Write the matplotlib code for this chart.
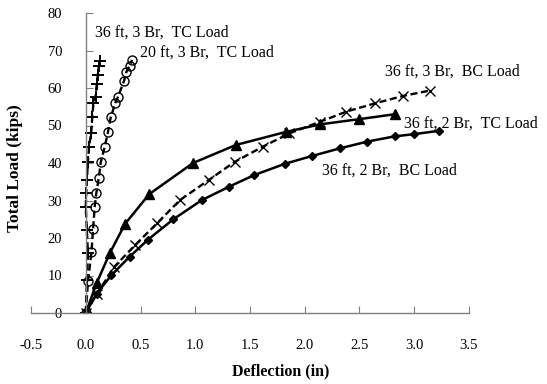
import matplotlib
matplotlib.use('Agg')
import matplotlib.pyplot as plt

# 36 ft, 3 Br, TC Load
s1_x = [0, 0.01, 0.02, 0.01, 0.0, 0.005, 0.01, 0.02, 0.03, 0.05, 0.06, 0.07, 0.09, 0.10, 0.11, 0.12, 0.13]
s1_y = [0, 8.8, 15.9, 22.1, 28.4, 32.0, 35.5, 40.4, 44.4, 48.0, 52.4, 55.9, 57.7, 61.0, 63.5, 65.8, 67.3]
# 20 ft, 3 Br, TC Load
s2_x = [0, 0.021, 0.052, 0.067, 0.082, 0.097, 0.119, 0.137, 0.174, 0.204, 0.228, 0.27, 0.295, 0.35, 0.371, 0.402, 0.423]
s2_y = [0, 8.6, 16.2, 22.4, 28.4, 32.1, 36.0, 40.2, 44.4, 48.4, 52.2, 56.0, 57.7, 61.9, 64.3, 66.0, 67.5]
# 36 ft, 2 Br, TC Load
s3_x = [0, 0.10, 0.22, 0.36, 0.58, 0.98, 1.37, 1.83, 2.14, 2.50, 2.82]
s3_y = [0, 8.0, 16.0, 23.8, 31.7, 40.0, 44.8, 48.3, 50.3, 51.7, 53.0]
# 36 ft, 3 Br, BC Load
s4_x = [0, 0.10, 0.26, 0.45, 0.65, 0.86, 1.13, 1.36, 1.62, 1.86, 2.14, 2.38, 2.64, 2.90, 3.14]
s4_y = [0, 5.0, 12.3, 18.1, 23.9, 30.1, 35.6, 40.3, 44.4, 47.9, 51.0, 53.7, 55.9, 57.9, 59.3]
# 36 ft, 2 Br, BC Load
s5_x = [0, 0.10, 0.235, 0.40, 0.57, 0.80, 1.06, 1.31, 1.54, 1.82, 2.07, 2.32, 2.57, 2.82, 3.00, 3.23]
s5_y = [0, 5.2, 10.1, 15.0, 19.6, 25.0, 30.1, 33.7, 36.8, 39.8, 41.9, 43.9, 45.7, 47.1, 47.7, 48.6]

labels = ['36 ft, 3 Br,  TC Load', '20 ft, 3 Br,  TC Load', '36 ft, 3 Br,  BC Load',
          '36 ft, 2 Br,  TC Load', '36 ft, 2 Br,  BC Load']
label_x = [0.08, 0.50, 2.73, 2.91, 2.16]
label_y = [74.8, 69.4, 64.3, 50.4, 38.0]

plt.rcParams['font.family'] = ['Liberation Serif', 'DejaVu Serif']

fig = plt.figure(figsize=(5.47, 3.84), dpi=100)
ax = fig.add_axes([31 / 547, 71 / 384, 438 / 547, 300 / 384])

ax.plot(s1_x, s1_y, color='black', linestyle=(0, (3, 1.5)), linewidth=1.7,
        marker='+', markersize=8, markeredgewidth=1.4)
ax.plot(s2_x, s2_y, color='black', linestyle=(0, (3, 1.5)), linewidth=1.7,
        marker='o', markersize=6.5, markerfacecolor='none', markeredgewidth=1.0)
ax.plot(s3_x, s3_y, color='black', linestyle='-', linewidth=1.8,
        marker='^', markersize=6.5)
ax.plot(s4_x, s4_y, color='black', linestyle=(0, (3, 1.5)), linewidth=1.7,
        marker='x', markersize=6.5, markeredgewidth=1.0)
ax.plot(s5_x, s5_y, color='black', linestyle='-', linewidth=1.8,
        marker='D', markersize=4.5)

for t, lx, ly in zip(labels, label_x, label_y):
    ax.text(lx, ly, t, fontsize=11.5, va='center', ha='left')

ax.set_xlim(-0.5, 3.5)
ax.set_ylim(0, 80)
ax.set_xticks([-0.5, 0, 0.5, 1.0, 1.5, 2.0, 2.5, 3.0, 3.5])
ax.set_xticklabels(['-0.5', '0.0', '0.5', '1.0', '1.5', '2.0', '2.5', '3.0', '3.5'])
ax.set_yticks(range(0, 81, 10))

ax.spines['left'].set_position(('data', 0))
ax.spines['top'].set_visible(False)
ax.spines['right'].set_visible(False)
for s in ['left', 'bottom']:
    ax.spines[s].set_color('#808080')
    ax.spines[s].set_linewidth(1.0)
ax.tick_params(axis='both', direction='in', length=5, color='#808080', labelsize=10.5)
ax.tick_params(axis='y', pad=17)
ax.tick_params(axis='x', pad=19)

fig.text(15 / 547, 1 - 168 / 384, 'Total Load (kips)', rotation=90, fontsize=12.5,
         fontweight='bold', ha='center', va='center')
fig.text(281 / 547, 1 - 371 / 384, 'Deflection (in)', fontsize=11.5,
         fontweight='bold', ha='center', va='center')

fig.savefig('out.png', dpi=100)
